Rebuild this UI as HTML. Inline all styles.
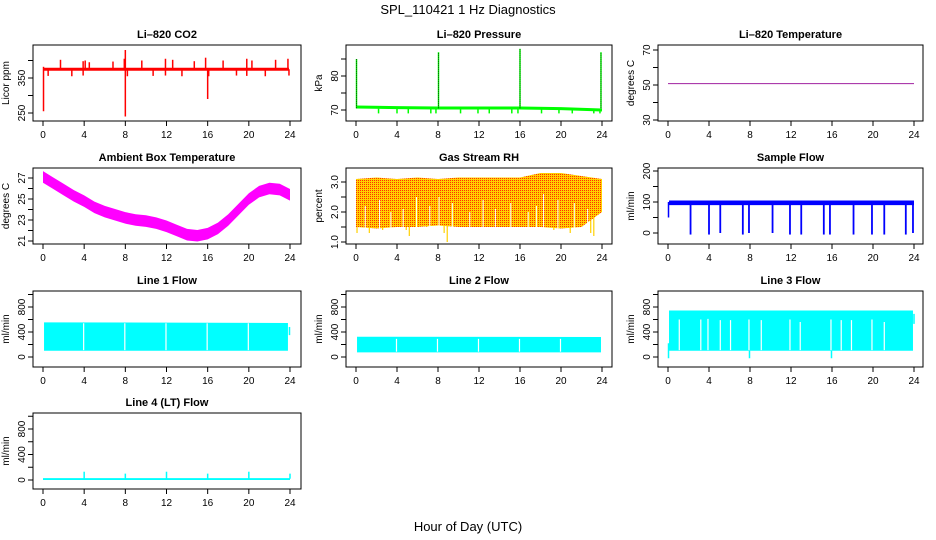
<!DOCTYPE html>
<html><head><meta charset="utf-8"><title>SPL_110421 1 Hz Diagnostics</title>
<style>
body{margin:0;background:#fff;}
svg{display:block;font-family:"Liberation Sans",Arial,sans-serif;}
</style></head>
<body>
<svg id="chart" width="936" height="540" viewBox="0 0 936 540" xmlns="http://www.w3.org/2000/svg">
<defs>
<pattern id="rhpat" width="2" height="2" patternUnits="userSpaceOnUse">
<rect width="2" height="2" fill="#ffd000" shape-rendering="crispEdges"/><rect width="1" height="1" fill="#ff3000" shape-rendering="crispEdges"/>
</pattern>
</defs>
<text x="468" y="14" font-size="13" text-anchor="middle">SPL_110421  1 Hz Diagnostics</text>
<text x="468" y="531" font-size="13" text-anchor="middle">Hour of Day (UTC)</text>
</svg>
<script>
// ---- data ----
const xTicks = [0,4,8,12,16,20,24];
const co2Base = 375;
const co2UpHours = [1.7,3.9,4.1,4.5,6.8,7.9,9.6,11.9,12.6,14.7,15.8,17.5,19.8,20.3,22.6,23.8];
const co2UpVals = [402,398,400,395,397,405,400,405,402,398,408,400,405,400,402,405];
const co2DownHours = [0.5,2.8,3.9,8.2,10.7,11.9,13.5,16.1,18.8,19.8,21.6,23.9];
const co2DownVals = [356,355,357,355,356,357,355,355,357,356,355,357];
const co2BigHours = [0.05,8.0,16.0];
const co2BigLo = [255,240,290];
const co2BigHi = [382,430,378];

const presHours = [0,4,8,12,16,20,24];
const presVals = [70.9,70.7,70.6,70.6,70.6,70.4,70.0];
const presDropHours = [2.2,4.0,5.1,7.3,7.8,10.2,11.9,13.0,15.2,15.8,18.1,19.8,21.1,23.2,23.8];
const presDropVals = [69,69,69,69,69,69,69,69,69,69,69,69,69,69,69];
const presSpikeHours = [0.05,8.05,16.0,23.9];
const presSpikeVals = [85,87,88,87];

const tempHours = [0,24];
const tempVals = [50.8,50.8];

const ambHours = [0,1,2,3,4,5,6,7,8,9,10,11,12,13,14,15,16,17,18,19,20,21,22,23,24];
const ambVals = [27.1,26.5,25.9,25.3,24.8,24.2,23.8,23.5,23.2,23.0,22.9,22.7,22.4,22.0,21.6,21.5,21.7,22.2,23.0,24.0,25.0,25.7,26.0,25.9,25.4];

const rhHours = [0,2,4,6,8,10,12,14,16,18,20,22,24];
const rhHi = [3.1,3.15,3.1,3.15,3.1,3.15,3.15,3.15,3.15,3.3,3.3,3.2,3.1];
const rhLo = [1.5,1.45,1.5,1.5,1.55,1.5,1.5,1.5,1.5,1.5,1.45,1.5,2.0];
const rhDipHours = [0.1,1.3,2.6,4.9,5.2,6.9,8.6,8.9,10.2,12.1,14.6,16.3,19.3,20.9,21.6,22.9,23.2];
const rhDipVals = [1.3,1.3,1.4,1.4,1.2,1.5,1.3,1.0,1.5,1.5,1.5,1.5,1.4,1.3,1.5,1.3,1.2];
const rhGapHours = [0.9,2.3,3.4,4.6,5.9,7.2,8.1,9.4,11.1,12.4,13.6,15.1,16.8,17.6,18.3,19.7,21.3,22.6];
const rhGapTops = [2.2,2.4,2.0,2.1,2.5,2.2,2.5,2.3,2.0,2.4,2.1,2.3,2.0,2.2,2.6,2.4,2.3,2.1];

const sfHours = [0.1,24];
const sfLo = [90,90];
const sfHi = [105,105];
const sfDropHours = [2.2,4.0,5.1,7.3,7.9,10.2,11.9,13.0,15.2,15.8,18.1,19.9,21.1,23.2,23.9];
const sfDropVals = [-5,-5,0,-5,0,0,-5,-5,-5,-5,-5,-5,-5,-5,0];

const l1Hours = [0.1,23.8];
const l1Lo = [100,100];
const l1Hi = [555,545];
const l1GapHours = [3.95,7.95,11.95,15.95,19.95];

const l2Hours = [0.1,23.9];
const l2Lo = [75,75];
const l2Hi = [325,320];
const l2GapHours = [3.95,7.95,11.95,15.95,19.95];

const l3Hours = [0.1,23.9];
const l3Lo = [100,100];
const l3Hi = [745,745];
const l3GapHours = [1.1,3.2,3.9,5.1,6.1,7.9,9.1,11.9,12.9,15.9,16.9,17.9,19.9,21.1];
const l3GapTop = [600,600,610,590,590,600,590,600,560,600,590,590,600,560];

const l4Hours = [0,24];
const l4Lo = [0,0];
const l4Hi = [30,30];
const l4SpikeHours = [4,8,12,16,20,24];
const l4SpikeVals = [130,100,130,100,130,100];

// ---- layout ----
const svg = document.getElementById('chart');
const NS = 'http://www.w3.org/2000/svg';
const colX0 = [43,356,668], colX24 = [290,602,914];
const boxL = [33,346,658], boxR = [301,612,923];
const H = 76;
function mk(tag, attrs, parent){
  const e = document.createElementNS(NS, tag);
  for (const k in attrs) e.setAttribute(k, attrs[k]);
  (parent||svg).appendChild(e);
  return e;
}
function panel(p){
  const g = mk('g', {});
  
  
  const xs = h => colX0[p.col] + h*(colX24[p.col]-colX0[p.col])/24;
  const ys = v => p.y1 + (v-p.v1)*(p.y2-p.y1)/(p.v2-p.v1);
  const L = boxL[p.col], R = boxR[p.col], T = p.top, B = p.top+H;
  const t = mk('text', {x:(L+R)/2, y:T-7, 'font-size':11, 'font-weight':'bold', 'text-anchor':'middle'}, g);
  t.textContent = p.title;
  
  
  const yl = mk('text', {x:0, y:0, 'font-size':10, 'text-anchor':'middle', transform:`translate(${L-24},${(T+B)/2}) rotate(-90)`}, g);
  yl.textContent = p.ylab;
  
  
  const plot = mk('g', {}, g);
  
  
  p.draw(plot, xs, ys);
  mk('rect', {x:L, y:T, width:R-L, height:H, fill:'none', stroke:'#000', 'stroke-width':1}, g);
  xTicks.forEach(h => {
    mk('line', {x1:xs(h), x2:xs(h), y1:B, y2:B+5, stroke:'#000'}, g);
    const tl = mk('text', {x:xs(h), y:B+17, 'font-size':10, 'text-anchor':'middle'}, g);
    tl.textContent = h;
    
    
  });
  p.yticks.forEach(v => {
    mk('line', {x1:L-5, x2:L, y1:ys(v), y2:ys(v), stroke:'#000'}, g);
  });
  p.ylabels.forEach(v => {
    const tl = mk('text', {x:0, y:0, 'font-size':10, 'text-anchor':'middle', transform:`translate(${L-8},${ys(v)}) rotate(-90)`}, g);
    tl.textContent = p.fmt ? p.fmt(v) : v;
    
    
  });
}
function band(g, xs, ys, hrs, lo, hi, fill, name){
  let d = '';
  hrs.forEach((h,i)=>{ d += (i?'L':'M') + xs(h) + ',' + ys(hi[i]); });
  for (let i=hrs.length-1;i>=0;i--) d += 'L' + xs(hrs[i]) + ',' + ys(lo[i]);
  const e = mk('path', {d:d+'Z', fill:fill}, g);
  
  
}
function vline(g, x, y1, y2, col, w){
  const e = mk('line', {x1:x, x2:x, y1:y1, y2:y2, stroke:col, 'stroke-width':w||1.5}, g);
  
  
  return e;
}
function line(g, xs, ys, hrs, vals, col, w, name){
  const pts = hrs.map((h,i)=>xs(h)+','+ys(vals[i])).join(' ');
  const e = mk('polyline', {points:pts, fill:'none', stroke:col, 'stroke-width':w}, g);
  
  
}

panel({name:'co2-panel', title:'Li\u2013820 CO2', ylab:'Licor ppm', col:0, top:45, v1:250, y1:113, v2:350, y2:78,
  yticks:[250,300,350,400], ylabels:[250,350], draw:(g,xs,ys)=>{
    co2UpHours.forEach((h,i)=>vline(g, xs(h), ys(co2Base), ys(co2UpVals[i]), '#f00', 1.5));
    co2DownHours.forEach((h,i)=>vline(g, xs(h), ys(co2Base), ys(co2DownVals[i]), '#f00', 1.5));
    line(g, xs, ys, [0.1,23.9], [co2Base,co2Base], '#f00', 3, 'co2-line');
    co2BigHours.forEach((h,i)=>vline(g, xs(h), ys(co2BigLo[i]), ys(co2BigHi[i]), '#f00', 1.5));
  }});
panel({name:'pressure-panel', title:'Li\u2013820 Pressure', ylab:'kPa', col:1, top:45, v1:70, y1:110, v2:80, y2:76,
  yticks:[70,75,80,85], ylabels:[70,80], draw:(g,xs,ys)=>{
    presDropHours.forEach((h,i)=>vline(g, xs(h), ys(70.4), ys(presDropVals[i]), '#0f0', 1.5));
    line(g, xs, ys, presHours, presVals, '#0f0', 3, 'pressure-line');
    presSpikeHours.forEach((h,i)=>{ vline(g, xs(h), ys(70.5), ys(presSpikeVals[i]), '#0f0', 1.5);
      const d = vline(g, xs(h), ys(70.5), ys(presSpikeVals[i]), '#000', 0.7); d.setAttribute('stroke-dasharray','1,1'); });
  }});
panel({name:'li820-temp-panel', title:'Li\u2013820 Temperature', ylab:'degrees C', col:2, top:45, v1:30, y1:120, v2:70, y2:50,
  yticks:[30,40,50,60,70], ylabels:[30,50,70], draw:(g,xs,ys)=>{
    line(g, xs, ys, tempHours, tempVals, '#a020a0', 1, 'temp-line');
  }});
panel({name:'ambient-temp-panel', title:'Ambient Box Temperature', ylab:'degrees C', col:0, top:168, v1:21, y1:241, v2:27, y2:178,
  yticks:[21,22,23,24,25,26,27], ylabels:[21,23,25,27], draw:(g,xs,ys)=>{
    band(g, xs, ys, ambHours, ambVals.map(v=>v-0.55), ambVals.map(v=>v+0.55), '#f0f', 'ambient-band');
  }});
panel({name:'rh-panel', title:'Gas Stream RH', ylab:'percent', col:1, top:168, v1:1, y1:242, v2:3, y2:182,
  yticks:[1,1.5,2,2.5,3], ylabels:[1,2,3], fmt:v=>v.toFixed(1), draw:(g,xs,ys)=>{
    rhDipHours.forEach((h,i)=>vline(g, xs(h), ys(2), ys(rhDipVals[i]), '#ffd000', 1.2));
    band(g, xs, ys, rhHours, rhLo, rhHi, 'url(#rhpat)', 'rh-band');
    rhGapHours.forEach((h,i)=>vline(g, xs(h), ys(1.45), ys(rhGapTops[i]), '#fff', 1));
  }});
panel({name:'sample-flow-panel', title:'Sample Flow', ylab:'ml/min', col:2, top:168, v1:0, y1:233, v2:200, y2:171,
  yticks:[0,50,100,150,200], ylabels:[0,100,200], draw:(g,xs,ys)=>{
    band(g, xs, ys, sfHours, sfLo, sfHi, '#00f', 'sample-flow-band');
    sfDropHours.forEach((h,i)=>vline(g, xs(h), ys(95), ys(sfDropVals[i]), '#00f', 1.8));
    vline(g, xs(0.05), ys(50), ys(100), '#00f', 1.5);
  }});
const flowTicks=[0,200,400,600,800,1000], flowLabels=[0,400,800];
function flowPanel(name,title,col,top,y0,y800,draw){
  panel({name, title, ylab:'ml/min', col, top, v1:0, y1:y0, v2:800, y2:y800, yticks:flowTicks, ylabels:flowLabels, draw});
}
flowPanel('line1-flow-panel','Line 1 Flow',0,291,357,307,(g,xs,ys)=>{
  band(g, xs, ys, l1Hours, l1Lo, l1Hi, '#0ff', 'line1-band');
  l1GapHours.forEach(h=>vline(g, xs(h), ys(110), ys(540), '#fff', 1.2));
  vline(g, xs(23.95), ys(350), ys(480), '#0ff', 1.5);
});
flowPanel('line2-flow-panel','Line 2 Flow',1,291,357,307,(g,xs,ys)=>{
  band(g, xs, ys, l2Hours, l2Lo, l2Hi, '#0ff', 'line2-band');
  l2GapHours.forEach(h=>vline(g, xs(h), ys(85), ys(290), '#fff', 1.2));
});
flowPanel('line3-flow-panel','Line 3 Flow',2,291,357,307,(g,xs,ys)=>{
  band(g, xs, ys, l3Hours, l3Lo, l3Hi, '#0ff', 'line3-band');
  l3GapHours.forEach((h,i)=>vline(g, xs(h), ys(110), ys(l3GapTop[i]), '#fff', 1.2));
  vline(g, xs(0.05), ys(-20), ys(220), '#0ff', 1.5);
  vline(g, xs(7.95), ys(-20), ys(100), '#0ff', 1.5);
  vline(g, xs(15.95), ys(-20), ys(100), '#0ff', 1.5);
  vline(g, xs(24), ys(530), ys(690), '#0ff', 1.5);
});
flowPanel('line4-flow-panel','Line 4 (LT) Flow',0,413,480,429,(g,xs,ys)=>{
  band(g, xs, ys, l4Hours, l4Lo, l4Hi, '#0ff', 'line4-band');
  l4SpikeHours.forEach((h,i)=>vline(g, xs(h), ys(20), ys(l4SpikeVals[i]), '#0ff', 1.5));
});
</script>
</body></html>
